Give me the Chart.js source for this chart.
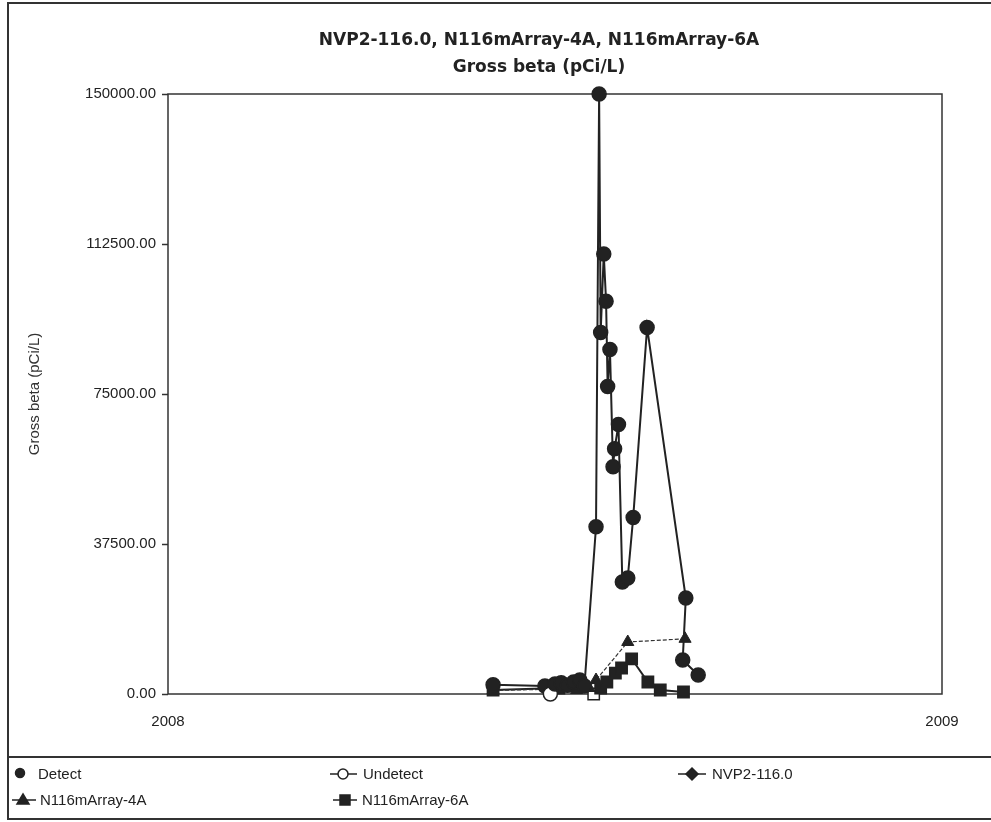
<!DOCTYPE html>
<html>
<head>
<meta charset="utf-8">
<script src="https://cdn.jsdelivr.net/npm/chart.js@4.4.0/dist/chart.umd.min.js"></script>
<style>
  html, body { margin: 0; padding: 0; background: #fff; }
  #wrap { position: relative; width: 991px; height: 822px; overflow: hidden;
          font-family: "Liberation Sans", Arial, sans-serif; color: #222; }
  #frame { position: absolute; left: 7px; top: 2px; width: 990px; height: 818px;
           border: 2px solid #333; box-sizing: border-box; }
  #sep { position: absolute; left: 7px; top: 756px; width: 984px; height: 2px; background: #333; }
  canvas { position: absolute; left: 0; top: 0; }
  #title { position: absolute; left: 539px; top: 26px; transform: translateX(-50%);
           font: bold 17px "DejaVu Sans", Verdana, sans-serif; line-height: 27px;
           text-align: center; white-space: nowrap; color: #222; }
  .lg { position: absolute; font-size: 15px; line-height: 18px; white-space: nowrap; }
  #marks { position: absolute; left: 0; top: 757px; }
</style>
</head>
<body>
<div id="wrap">
  <div id="frame"></div>
  <canvas id="chart" width="991" height="757"></canvas>
  <div id="title">NVP2-116.0, N116mArray-4A, N116mArray-6A<br>Gross beta (pCi/L)</div>
  <div id="sep"></div>
  <svg id="marks" width="991" height="65">
    <g stroke="#222" stroke-width="1.5" fill="#222">
      <circle cx="20" cy="16" r="4.5"/>
      <line x1="330" y1="17" x2="357" y2="17"/>
      <circle cx="343" cy="17" r="5" fill="#fff"/>
      <line x1="678" y1="17" x2="706" y2="17"/>
      <polygon points="692,11 698,17 692,23 686,17"/>
      <line x1="12" y1="43" x2="36" y2="43"/>
      <polygon points="23,37 29,47 17,47"/>
      <line x1="333" y1="43" x2="357" y2="43"/>
      <rect x="340" y="38" width="10" height="10"/>
    </g>
  </svg>
  <div class="lg" style="left:38px;top:765px">Detect</div>
  <div class="lg" style="left:363px;top:765px">Undetect</div>
  <div class="lg" style="left:712px;top:765px">NVP2-116.0</div>
  <div class="lg" style="left:40px;top:791px">N116mArray-4A</div>
  <div class="lg" style="left:362px;top:791px">N116mArray-6A</div>
</div>
<script>
// sample dates as decimal years, values in pCi/L, detect flag (1 = detect, 0 = undetect)
var nvpDates   = [2008.420, 2008.487, 2008.494, 2008.500, 2008.508, 2008.516, 2008.524, 2008.532, 2008.538,
                  2008.553, 2008.557, 2008.559, 2008.563, 2008.566, 2008.568, 2008.571, 2008.575, 2008.577,
                  2008.582, 2008.587, 2008.594, 2008.601, 2008.619, 2008.669, 2008.665, 2008.685];
var nvpValues  = [2300, 2000, 0, 2500, 2800, 2200, 3000, 3500, 2000,
                  41800, 150000, 90400, 110000, 98200, 76900, 86100, 56800, 61300,
                  67400, 28000, 29000, 44100, 91600, 24000, 8500, 4750];
var nvpDetect  = [1, 1, 0, 1, 1, 1, 1, 1, 1, 1, 1, 1, 1, 1, 1, 1, 1, 1, 1, 1, 1, 1, 1, 1, 1, 1];

var a4Dates    = [2008.420, 2008.497, 2008.512, 2008.528, 2008.544, 2008.553, 2008.594, 2008.668];
var a4Values   = [900, 1200, 1800, 1000, 1500, 3500, 13000, 13800];
var a4Detect   = [1, 1, 1, 1, 1, 1, 1, 1];

var a6Dates    = [2008.420, 2008.505, 2008.520, 2008.550, 2008.559, 2008.567, 2008.578, 2008.586,
                  2008.599, 2008.620, 2008.636, 2008.666];
var a6Values   = [1000, 1500, 2000, 0, 1500, 3000, 5200, 6500, 8800, 3000, 1000, 500];
var a6Detect   = [1, 1, 1, 0, 1, 1, 1, 1, 1, 1, 1, 1];

var yTicks = [0, 37500, 75000, 112500, 150000];
var xTicks = [2008, 2009];

var ink = '#222';

function points(dates, values) {
	return dates.map(function (d, i) { return { x: d, y: values[i] }; });
}
function fills(flags) {
	return flags.map(function (f) { return f ? ink : '#fff'; });
}

// box around the plot area
var plotFrame = {
	id: 'plotFrame',
	beforeDatasetsDraw: function (chart) {
		var a = chart.chartArea, ctx = chart.ctx;
		ctx.save();
		ctx.strokeStyle = '#333';
		ctx.lineWidth = 1.5;
		ctx.strokeRect(a.left, a.top, a.right - a.left, a.bottom - a.top);
		ctx.restore();
	}
};

Chart.defaults.font.family = '"Liberation Sans", Arial, sans-serif';
Chart.defaults.font.size = 15;
Chart.defaults.color = ink;

new Chart(document.getElementById('chart').getContext('2d'), {
	type: 'scatter',
	data: {
		datasets: [{
			label: 'NVP2-116.0',
			data: points(nvpDates, nvpValues),
			showLine: true,
			borderColor: ink,
			borderWidth: 2,
			pointStyle: 'circle',
			pointRadius: 7,
			pointBorderWidth: 1.5,
			pointBorderColor: ink,
			pointBackgroundColor: fills(nvpDetect),
			clip: false
		}, {
			label: 'N116mArray-4A',
			data: points(a4Dates, a4Values),
			showLine: true,
			borderColor: '#333',
			borderWidth: 1.2,
			borderDash: [4, 2],
			pointStyle: 'triangle',
			pointRadius: 7,
			pointBorderWidth: 1,
			pointBorderColor: ink,
			pointBackgroundColor: fills(a4Detect),
			clip: false
		}, {
			label: 'N116mArray-6A',
			data: points(a6Dates, a6Values),
			showLine: true,
			borderColor: ink,
			borderWidth: 2,
			pointStyle: 'rect',
			pointRadius: 8,
			pointBorderWidth: 1.5,
			pointBorderColor: ink,
			pointBackgroundColor: fills(a6Detect),
			clip: false
		}]
	},
	options: {
		responsive: false,
		animation: false,
		layout: { padding: { left: 0, right: 49, top: 94, bottom: 0 } },
		plugins: {
			legend: { display: false },
			tooltip: { enabled: false },
			title: { display: false }
		},
		scales: {
			x: {
				type: 'linear',
				min: 2008,
				max: 2009,
				afterBuildTicks: function (scale) {
					scale.ticks = xTicks.map(function (v) { return { value: v }; });
				},
				ticks: { padding: 11, callback: function (v) { return String(v); } },
				grid: { display: false },
				border: { display: false },
				afterFit: function (scale) { scale.height = 63; }
			},
			y: {
				type: 'linear',
				min: 0,
				max: 150000,
				afterBuildTicks: function (scale) {
					scale.ticks = yTicks.map(function (v) { return { value: v }; });
				},
				ticks: { padding: 6, callback: function (v) { return v.toFixed(2); } },
				grid: { drawOnChartArea: false, drawTicks: true, tickLength: 6, tickColor: '#333', tickWidth: 1.5 },
				border: { display: false },
				title: {
					display: true,
					text: 'Gross beta (pCi/L)',
					font: { size: 15 },
					color: '#333',
					padding: { top: 26, bottom: 0 }
				},
				afterFit: function (scale) { scale.width = 168; }
			}
		}
	},
	plugins: [plotFrame]
});
</script>
</body>
</html>
